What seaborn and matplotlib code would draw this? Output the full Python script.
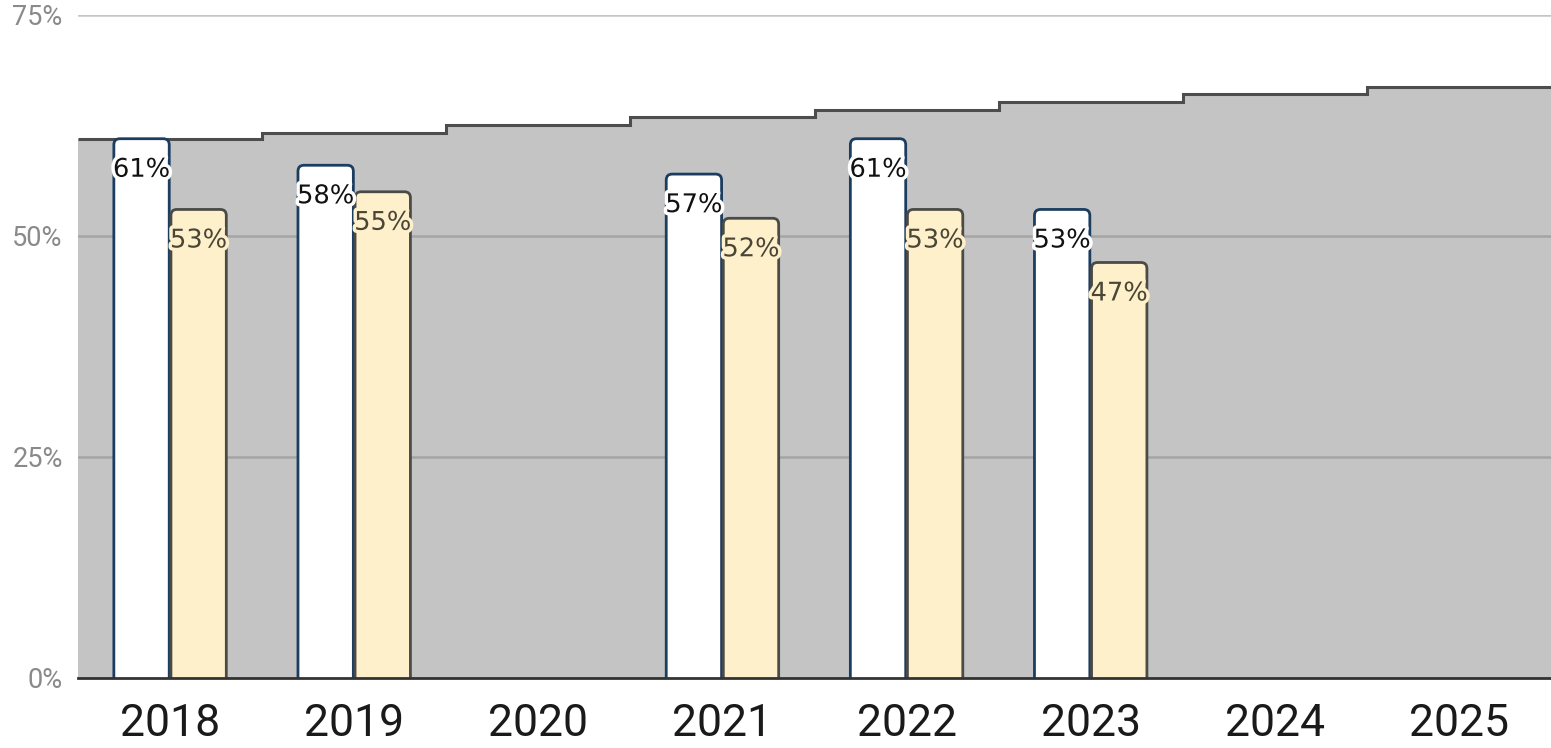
import numpy as np
import pandas as pd
import matplotlib
matplotlib.use("Agg")
import matplotlib.pyplot as plt
import matplotlib.patheffects as pe
from matplotlib.patches import FancyBboxPatch
import seaborn as sns

# ---- data ----
years = ["2018", "2019", "2020", "2021", "2022", "2023", "2024", "2025"]
bar_years = ["2018", "2019", "2021", "2022", "2023"]
series_a = [61, 58, 57, 61, 53]   # white bars
series_b = [53, 55, 52, 53, 47]   # cream bars
target = [61.0, 61.7, 62.6, 63.5, 64.3, 65.2, 66.1, 66.9]  # grey step area
ytick_vals = [0, 25, 50, 75]
ytick_labels = ["0%", "25%", "50%", "75%"]

df = pd.DataFrame({
    "year": bar_years * 2,
    "series": ["A"] * len(bar_years) + ["B"] * len(bar_years),
    "value": series_a + series_b,
})

sns.set_theme(style="white")
plt.rcParams["font.family"] = ["Roboto", "DejaVu Sans"]

fig = plt.figure(figsize=(15.51, 7.48), dpi=100)
ax = fig.add_axes([0.0503, 0.0936, 0.9497, 0.98 - 0.0936])

# grey step area
edges = np.arange(len(years) + 1) - 0.5
ax.stairs(target, edges, fill=True, color="#c4c4c4", baseline=0, zorder=0.3, linewidth=0)
ax.stairs(target, edges, fill=False, color="#4d4d4d", baseline=None, linewidth=2.2, zorder=0.4)

sns.barplot(data=df, x="year", y="value", hue="series", order=years,
            hue_order=["A", "B"], palette={"A": "#ffffff", "B": "#fff0cc"},
            width=0.62, gap=0.03, legend=False, ax=ax, zorder=2, errorbar=None)

edge_cols = {0: "#1b3d60", 1: "#4a4a46"}
text_cols = {0: "#111111", 1: "#4a4636"}
halo_cols = {0: "#ffffff", 1: "#fff0cc"}
fills = {0: "#ffffff", 1: "#fff0cc"}

# x/y pixel scales for rounded corners
px_per_x = 1473 / 8.0
px_per_y = 663 / 75.0
r_px = 6
for ci, cont in enumerate(ax.containers):
    for bar in cont:
        x0, y0 = bar.get_x(), bar.get_y()
        w, h = bar.get_width(), bar.get_height()
        if not np.isfinite(h):
            continue
        bar.set_visible(False)
        rs = r_px / px_per_x
        aspect = (r_px / px_per_y) / rs
        fb = FancyBboxPatch((x0, y0 - 2), w, h + 2,
                            boxstyle=f"round,pad=0,rounding_size={rs}",
                            mutation_aspect=aspect,
                            facecolor=fills[ci], edgecolor=edge_cols[ci],
                            linewidth=2, zorder=2)
        ax.add_patch(fb)
        ax.annotate(f"{h:.0f}%", (x0 + w / 2, y0 + h), xytext=(0, -31),
                    textcoords="offset pixels", ha="center", va="center",
                    fontsize=18.5, color=text_cols[ci], family=["DejaVu Sans"],
                    zorder=3,
                    path_effects=[pe.withStroke(linewidth=5, foreground=halo_cols[ci])])

ax.set_xlim(-0.5, len(years) - 0.5)
ax.set_ylim(0, 75)
ax.set_yticks(ytick_vals)
ax.set_yticklabels(ytick_labels)
ax.set_xlabel("")
ax.set_ylabel("")

ax.set_axisbelow(True)
ax.yaxis.grid(True, color="#808080", alpha=0.45, linewidth=1.8)
ax.xaxis.grid(False)
ax.tick_params(axis="x", length=0, pad=18, labelsize=32, labelcolor="#1a1a1a")
ax.tick_params(axis="y", length=0, pad=11, labelsize=19.5, labelcolor="#8a8a8a")

for s in ["left", "top", "right"]:
    ax.spines[s].set_visible(False)
ax.spines["bottom"].set_color("#333333")
ax.spines["bottom"].set_linewidth(2)
ax.spines["bottom"].set_zorder(4)
ax.patch.set_alpha(0)

fig.savefig("out.png", dpi=100, facecolor="white")
